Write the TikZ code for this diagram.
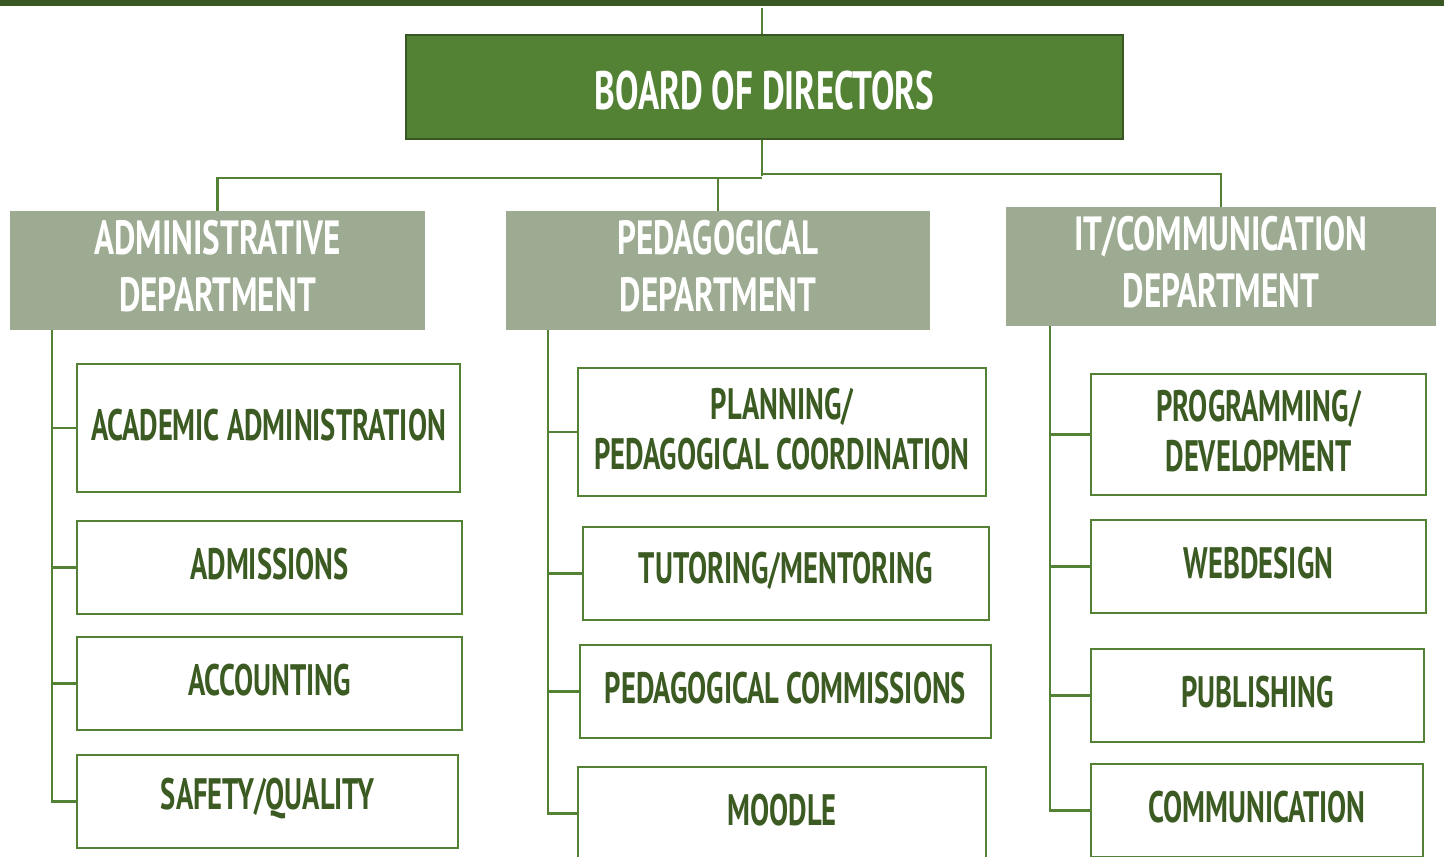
\documentclass[tikz,border=0pt]{standalone}
\usepackage{fontspec}
\newfontfamily\cond{PT Sans}[FakeStretch=0.65]
\newfontfamily\conddept{PT Sans}[FakeStretch=0.69]
\definecolor{topbar}{HTML}{385723}
\definecolor{boardfill}{HTML}{548235}
\definecolor{deptfill}{HTML}{9CAB91}
\definecolor{linegreen}{HTML}{548235}
\definecolor{textgreen}{HTML}{3B5B22}
\begin{document}
\begin{tikzpicture}[x=1pt,y=-1pt,
  boardbox/.style={draw=topbar,line width=1.2pt,fill=boardfill,text=white,minimum width=717pt,minimum height=104pt,inner sep=0pt,font=\cond\bfseries\fontsize{54}{60}\selectfont},
  deptbox/.style={fill=deptfill,text=white,inner sep=0pt,align=center,font=\conddept\bfseries\fontsize{48}{57}\selectfont,minimum height=119pt},
  subbox/.style={draw=linegreen,line width=2pt,fill=white,text=textgreen,inner sep=0pt,align=center,font=\cond\bfseries\fontsize{44}{50}\selectfont},
  lbl/.style={inner sep=0pt,align=center},
  conn/.style={draw=linegreen,line width=2.5pt}]
\useasboundingbox (0,0) rectangle (1444,857);
\fill[topbar] (0,0) rectangle (1444,6);
\coordinate (top) at (762,8);
\node[boardbox,text=boardfill] (board) at (764.5,87) {};
\node[lbl,font=\cond\bfseries\fontsize{54}{60}\selectfont,text=white] at (764.5,91) {BOARD OF DIRECTORS};
\node[deptbox,minimum width=415pt] (admin) at (217.5,270.5) {};
\node[deptbox,minimum width=424pt] (ped) at (718,270.5) {};
\node[deptbox,minimum width=430pt] (it) at (1221,266.5) {};
\node[deptbox,fill=none,minimum height=0pt] at (217.5,266.5) {ADMINISTRATIVE\\DEPARTMENT};
\node[deptbox,fill=none,minimum height=0pt] at (718,266.5) {PEDAGOGICAL\\DEPARTMENT};
\node[deptbox,fill=none,minimum height=0pt] at (1221,262.5) {IT/COMMUNICATION\\DEPARTMENT};
% admin column
\node[subbox,minimum width=383pt,minimum height=128pt] (a1) at (268.5,428) {};
\node[subbox,minimum width=385pt,minimum height=93pt] (a2) at (269.5,567.5) {};
\node[subbox,minimum width=385pt,minimum height=93pt] (a3) at (269.5,683.5) {};
\node[subbox,minimum width=381pt,minimum height=93pt] (a4) at (267.5,801.5) {};
% ped column
\node[subbox,minimum width=408pt,minimum height=128pt] (p1) at (782,432) {};
\node[subbox,minimum width=406pt,minimum height=93pt] (p2) at (786,573.5) {};
\node[subbox,minimum width=411pt,minimum height=93pt] (p3) at (785.5,691.5) {};
\node[subbox,minimum width=408pt,minimum height=93pt] (p4) at (782,813.5) {};
% it column
\node[subbox,minimum width=335pt,minimum height=121pt] (i1) at (1258.5,434.5) {};
\node[subbox,minimum width=335pt,minimum height=93pt] (i2) at (1258.5,566.5) {};
\node[subbox,minimum width=333pt,minimum height=93pt] (i3) at (1257.5,695.5) {};
\node[subbox,minimum width=332pt,minimum height=93pt] (i4) at (1257,810.5) {};
% labels
\begin{scope}[every node/.style={lbl,text=textgreen,font=\cond\bfseries\fontsize{44}{50}\selectfont}]
\node at ([yshift=3pt]a1.center) {ACADEMIC ADMINISTRATION};
\node at ([yshift=3pt]a2.center) {ADMISSIONS};
\node at ([yshift=3pt]a3.center) {ACCOUNTING};
\node at ([yshift=3pt]a4.center) {SAFETY/QUALITY};
\node at ([yshift=3pt]p1.center) {PLANNING/\\PEDAGOGICAL COORDINATION};
\node at ([yshift=3pt]p2.center) {TUTORING/MENTORING};
\node at ([yshift=3pt]p3.center) {PEDAGOGICAL COMMISSIONS};
\node at ([yshift=3.5pt]p4.center) {MOODLE};
\node at ([yshift=3.5pt]i1.center) {PROGRAMMING/\\DEVELOPMENT};
\node at ([yshift=3pt]i2.center) {WEBDESIGN};
\node at ([yshift=3pt]i3.center) {PUBLISHING};
\node at ([yshift=3pt]i4.center) {COMMUNICATION};
\end{scope}
% top connectors
\draw[conn] (top) -- (top |- board.north);
\coordinate (j) at (762,176);
\draw[conn] (board.south -| j) -- (j);
\draw[conn] (762,178) -| (admin.north);
\draw[conn] (762,178) -| (ped.north);
\draw[conn] (762,174) -| (it.north);
% spines
\coordinate (sa) at (52,330);
\coordinate (sp) at (548,330);
\coordinate (si) at (1050,326);
\draw[conn] (sa) |- (a4.west);
\foreach \n in {a1,a2,a3} \draw[conn] (sa |- \n.west) -- (\n.west);
\draw[conn] (sp) |- (p4.west);
\foreach \n in {p1,p2,p3} \draw[conn] (sp |- \n.west) -- (\n.west);
\draw[conn] (si) |- (i4.west);
\foreach \n in {i1,i2,i3} \draw[conn] (si |- \n.west) -- (\n.west);
\end{tikzpicture}
\end{document}
